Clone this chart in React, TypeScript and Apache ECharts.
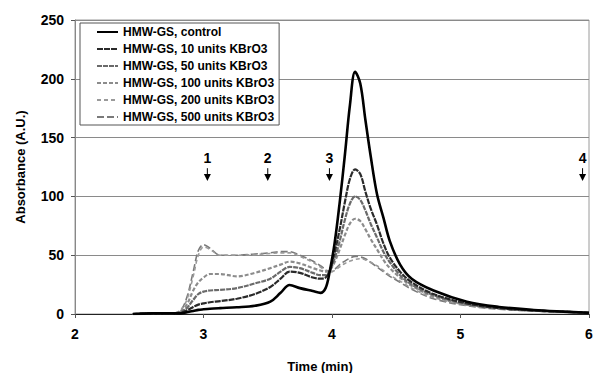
import React, { useEffect, useRef } from "react";
import * as echarts from "echarts";

const TIME = [2.45, 2.6, 2.75, 2.82, 2.87, 2.92, 2.96, 3.0, 3.05, 3.13, 3.26, 3.4, 3.52, 3.6, 3.67, 3.75, 3.85, 3.91, 3.95, 3.98, 4.02, 4.06, 4.1, 4.14, 4.18, 4.22, 4.26, 4.3, 4.35, 4.4, 4.45, 4.53, 4.62, 4.79, 5.05, 5.3, 5.57, 5.8, 6.0];

const CONTROL = [0, 0.5, 0.5, 0.5, 1.5, 2.5, 3.5, 4, 4.5, 5, 5.7, 7, 10.5, 18, 24.6, 22, 19.5, 18, 22, 35, 60, 95, 135, 178, 206, 196, 165, 135, 102, 82, 62, 42, 30, 20, 10.5, 6, 3.4, 2, 1];
const U10 = [0, 0.5, 0.5, 1, 3, 6, 8, 9, 10, 11, 13, 17, 23, 30, 36, 35, 31, 30, 31, 36, 52, 72, 95, 115, 123, 119, 104, 90, 76, 60, 48, 36, 27, 17, 9, 5, 3, 2, 1];
const U50 = [0, 0.5, 0.5, 1.5, 5, 12, 17, 19, 20, 20.5, 22, 26, 30, 36, 40, 39, 35, 33, 33, 36, 47, 62, 80, 94, 100, 97, 88, 77, 65, 53, 44, 33, 25, 16, 8.5, 5, 3, 2, 1];
const U100 = [0, 0.5, 0.5, 2, 8, 20, 27, 31, 34, 34, 32, 35, 39, 42, 44.5, 43, 39, 37, 36, 37, 44, 55, 67, 77, 81, 79, 72, 64, 55, 46, 39, 31, 24, 15, 8, 5, 3, 2, 1];
const U200 = [0, 0.5, 0.5, 3, 12, 32, 50, 57, 55, 50, 50, 50.5, 51.5, 52, 52, 49, 44, 40, 37, 35, 37, 40, 43, 45, 46.5, 47, 46, 44, 41, 37, 33, 28, 22, 14, 7.5, 4.5, 2.5, 1.5, 1];
const U500 = [0, 0.5, 0.5, 3, 14, 36, 54, 59, 56, 50, 50, 51, 52, 53, 53, 50, 45, 41, 38, 36, 38, 42, 45, 47.5, 49, 48.5, 47, 44, 40, 36, 32, 27, 21, 13, 7, 4, 2.5, 1.5, 1];

const SERIES_NAMES = [
  "HMW-GS, control",
  "HMW-GS, 10 units KBrO3",
  "HMW-GS, 50 units KBrO3",
  "HMW-GS, 100 units KBrO3",
  "HMW-GS, 200 units KBrO3",
  "HMW-GS, 500 units KBrO3",
];
const SERIES_VALUES = [CONTROL, U10, U50, U100, U200, U500];

const ANNOT_X = [3.03, 3.5, 3.98, 5.95];
const ANNOT_LABELS = ["1", "2", "3", "4"];
const ANNOT_TEXT_Y = 133;
const ANNOT_ARROW_TOP = 124;
const ANNOT_ARROW_TIP = 113;

const FONT = "'Liberation Sans', Arial, sans-serif";

const STYLES = [
  { color: "#000000", width: 2.6, type: "solid" as any },
  { color: "#2a2a2a", width: 2.2, type: [6, 1] as any },
  { color: "#6a6a6a", width: 2.2, type: [5, 1] as any },
  { color: "#8c8c8c", width: 2.2, type: [4, 2] as any },
  { color: "#9a9a9a", width: 1.6, type: [4, 3] as any },
  { color: "#7a7a7a", width: 1.6, type: [7, 3] as any },
];

export default function App() {
  const ref = useRef<HTMLDivElement>(null);
  useEffect(() => {
    if (!ref.current) return;
    const chart = echarts.init(ref.current, undefined, { renderer: "svg" });
    const lineSeries = SERIES_NAMES.map((name, i) => ({
      name,
      type: "line",
      data: TIME.map((t, j) => [t, SERIES_VALUES[i][j]]),
      showSymbol: false,
      symbol: "none",
      smooth: 0.35,
      z: 10 - i,
      lineStyle: { color: STYLES[i].color, width: STYLES[i].width, type: STYLES[i].type },
      itemStyle: { color: STYLES[i].color },
    }));
    const annotSeries = {
      type: "custom",
      name: "annotations",
      silent: true,
      data: ANNOT_X.map((x, i) => [x, i]),
      renderItem: (params: any, api: any) => {
        const x = api.value(0);
        const idx = api.value(1);
        const pText = api.coord([x, ANNOT_TEXT_Y]);
        const pTop = api.coord([x, ANNOT_ARROW_TOP]);
        const pTip = api.coord([x, ANNOT_ARROW_TIP]);
        return {
          type: "group",
          children: [
            {
              type: "text",
              style: {
                text: ANNOT_LABELS[idx],
                x: pText[0],
                y: pText[1],
                align: "center",
                verticalAlign: "middle",
                font: `bold 14px ${FONT}`,
                fill: "#000",
              },
            },
            {
              type: "line",
              shape: { x1: pTop[0], y1: pTop[1], x2: pTip[0], y2: pTip[1] - 5 },
              style: { stroke: "#000", lineWidth: 1 },
            },
            {
              type: "polygon",
              shape: {
                points: [
                  [pTip[0] - 3.5, pTip[1] - 7],
                  [pTip[0] + 3.5, pTip[1] - 7],
                  [pTip[0], pTip[1]],
                ],
              },
              style: { fill: "#000" },
            },
          ],
        };
      },
    };
    chart.setOption({
      animation: false,
      backgroundColor: "#ffffff",
      grid: {
        left: 75,
        right: 9,
        top: 20,
        bottom: 59,
        outerBoundsMode: "none",
        containLabel: false,
        show: true,
        borderColor: "#9a9a9a",
        borderWidth: 1,
      },
      legend: {
        data: SERIES_NAMES,
        orient: "vertical",
        left: 80,
        top: 23,
        padding: [3, 5, 2, 16],
        itemGap: 5,
        itemWidth: 21,
        itemHeight: 14,
        itemStyle: { opacity: 0 },
        backgroundColor: "#ffffff",
        borderColor: "#555555",
        borderWidth: 1,
        textStyle: { fontFamily: FONT, fontWeight: "bold", fontSize: 12, color: "#000" },
      },
      xAxis: {
        type: "value",
        min: 2,
        max: 6,
        interval: 1,
        name: "Time (min)",
        nameLocation: "middle",
        nameGap: 46,
        nameTextStyle: { fontFamily: FONT, fontWeight: "bold", fontSize: 13, color: "#000", padding: [0, 24, 0, 0] },
        axisLine: { show: true, lineStyle: { color: "#222", width: 1 } },
        axisTick: { show: true, inside: false, length: 4, lineStyle: { color: "#555" } },
        axisLabel: { fontFamily: FONT, fontWeight: "bold", fontSize: 14, color: "#000", margin: 13 },
        splitLine: { show: false },
      },
      yAxis: {
        type: "value",
        min: 0,
        max: 250,
        interval: 50,
        name: "Absorbance (A.U.)",
        nameLocation: "middle",
        nameGap: 48,
        nameTextStyle: { fontFamily: FONT, fontWeight: "bold", fontSize: 13, color: "#000" },
        axisLine: { show: true, lineStyle: { color: "#888", width: 1 } },
        axisTick: { show: true, length: 4, lineStyle: { color: "#555" } },
        axisLabel: { fontFamily: FONT, fontWeight: "bold", fontSize: 14, color: "#000", margin: 11 },
        splitLine: { show: true, lineStyle: { color: "#8a8a8a", width: 1 } },
      },
      series: [...lineSeries, annotSeries],
    });
    return () => chart.dispose();
  }, []);
  return <div ref={ref} style={{ width: 598, height: 373, position: "absolute", left: 0, top: 0 }} />;
}
